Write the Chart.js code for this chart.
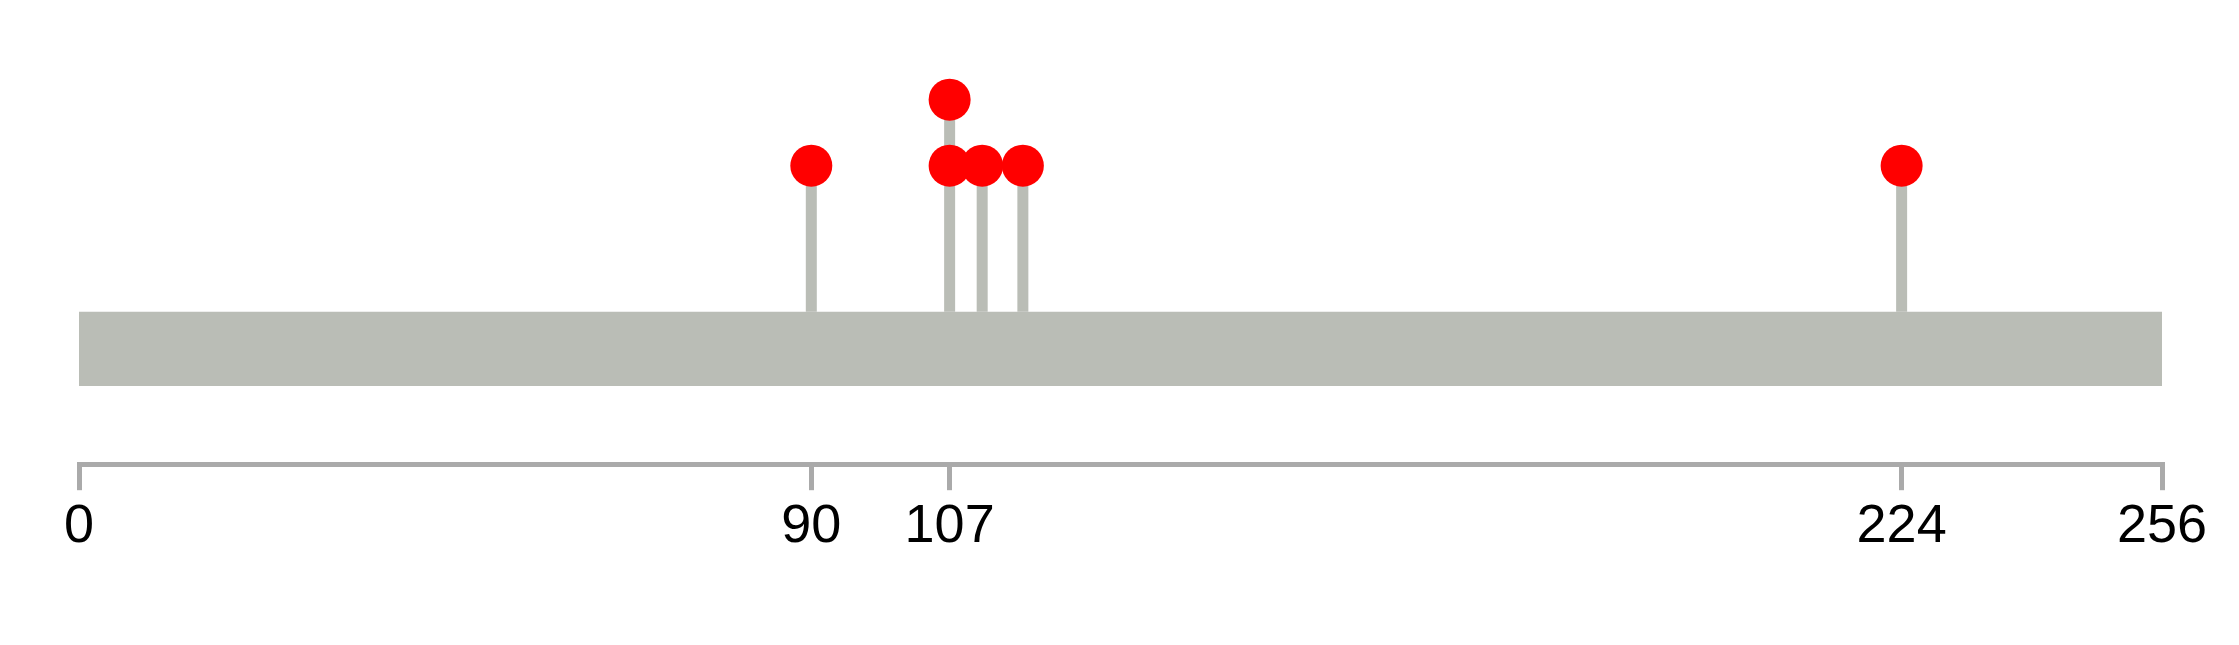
<!DOCTYPE html>
<html>
<head>
<meta charset="utf-8">
<style>
  html, body { margin: 0; padding: 0; background: #ffffff; }
  #chart { display: block; }
</style>
<script src="https://cdn.jsdelivr.net/npm/chart.js@4/dist/chart.umd.min.js"></script>
</head>
<body>
<canvas id="chart" width="2239" height="645"></canvas>
<script>
// protein length and mutation sites (position, number of hits)
const proteinLength = 256;
const positions = [90, 107, 111, 116, 224];
const counts = [1, 2, 1, 1, 1];
const tickValues = [0, 90, 107, 224, 256];

// vertical layout in "bar height" units (bar spans 0..1)
const HEAD_BASE = 2.97;
const HEAD_STEP = 0.89;
const grey = '#babdb6';

const heads = [];
const stems = [];
positions.forEach((pos, i) => {
  for (let k = 0; k < counts[i]; k++) {
    heads.push({ x: pos, y: HEAD_BASE + k * HEAD_STEP });
  }
  stems.push({
    type: 'line',
    data: [{ x: pos, y: 1 }, { x: pos, y: HEAD_BASE + (counts[i] - 1) * HEAD_STEP }],
    borderColor: grey,
    borderWidth: 11,
    pointRadius: 0,
    order: 1,
  });
});

const ctx = document.getElementById('chart').getContext('2d');
new Chart(ctx, {
  type: 'scatter',
  data: {
    datasets: [
      {
        type: 'scatter',
        data: heads,
        pointRadius: 21,
        pointBackgroundColor: '#ff0000',
        pointBorderWidth: 0,
        borderColor: 'transparent',
        clip: false,
        order: 0,
      },
      ...stems,
      {
        type: 'line',
        data: [{ x: 0, y: 1 }, { x: proteinLength, y: 1 }],
        fill: { value: 0 },
        backgroundColor: grey,
        borderColor: 'transparent',
        borderWidth: 0,
        pointRadius: 0,
        order: 2,
      },
    ],
  },
  options: {
    responsive: false,
    animation: false,
    events: [],
    layout: {
      autoPadding: false,
      padding: { left: 79, right: 77, top: 0, bottom: 80 },
    },
    plugins: {
      legend: { display: false },
      tooltip: { enabled: false },
    },
    scales: {
      x: {
        type: 'linear',
        position: 'bottom',
        min: 0,
        max: proteinLength,
        afterBuildTicks(scale) {
          scale.ticks = tickValues.map((v) => ({ value: v }));
        },
        grid: {
          display: true,
          drawOnChartArea: false,
          drawTicks: true,
          tickLength: 26,
          color: '#aaaaaa',
          lineWidth: 5,
        },
        border: {
          display: true,
          color: '#aaaaaa',
          width: 5,
        },
        ticks: {
          autoSkip: false,
          maxRotation: 0,
          padding: 5,
          color: '#000000',
          font: { family: 'Liberation Sans, Arial, sans-serif', size: 54 },
          callback: (v) => String(v),
        },
      },
      y: {
        display: false,
        min: -1.054,
        max: 5.203,
      },
    },
  },
});
</script>
</body>
</html>
